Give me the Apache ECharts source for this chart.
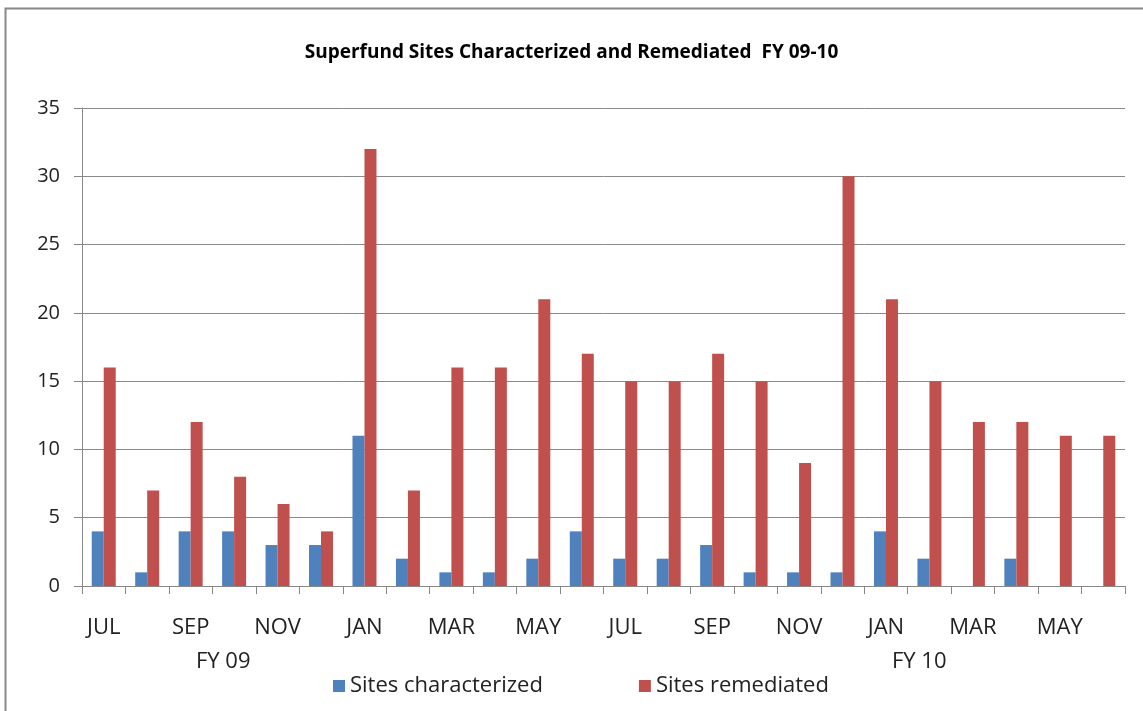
<!DOCTYPE html>
<html><head><meta charset="utf-8">
<script src="https://cdn.jsdelivr.net/npm/echarts@6/dist/echarts.min.js"></script>
<style>html,body{margin:0;padding:0;background:#fff}#c{width:1143px;height:711px}</style>
</head><body><div id="c"></div>
<script>
const months = ['JUL','AUG','SEP','OCT','NOV','DEC','JAN','FEB','MAR','APR','MAY','JUN',
                'JUL','AUG','SEP','OCT','NOV','DEC','JAN','FEB','MAR','APR','MAY','JUN'];
const characterized = [4,1,4,4,3,3,11,2,1,1,2,4,2,2,3,1,1,1,4,2,0,2,0,0];
const remediated = [16,7,12,8,6,4,32,7,16,16,21,17,15,15,17,15,9,30,21,15,12,12,11,11];
const fiscalYears = ['FY 09','FY 10'];
const yTicks = [0,5,10,15,20,25,30,35];

const font = '"Open Sans", "Liberation Sans", sans-serif';
const chart = echarts.init(document.getElementById('c'));
chart.setOption({
  animation:false,
  backgroundColor:'#fff',
  title:{text:'Superfund Sites Characterized and Remediated  FY 09-10', left:'center', top:38,
    textStyle:{fontFamily:font, fontSize:19, fontWeight:'bold', color:'#000'}},
  grid:{left:82, right:18, top:108, bottom:125, containLabel:false},
  legend:{bottom:9, left:328, itemGap:96, itemWidth:12, itemHeight:12, icon:'rect',
    textStyle:{fontFamily:font, fontSize:22, color:'#222'},
    data:['Sites characterized','Sites remediated']},
  xAxis:{type:'category', data:months,
    axisLine:{lineStyle:{color:'#888', width:1}},
    axisTick:{show:true, interval:0, length:8, lineStyle:{color:'#888'}},
    axisLabel:{interval:1, margin:31, fontFamily:font, fontSize:22, color:'#222'}},
  yAxis:{type:'value', min:yTicks[0], max:yTicks[yTicks.length-1], interval:5,
    axisLine:{show:true, lineStyle:{color:'#888'}},
    axisTick:{show:true, length:8, lineStyle:{color:'#888'}},
    splitLine:{lineStyle:{color:'#8a8a8a', width:1}},
    axisLabel:{margin:22, fontFamily:font, fontSize:20, color:'#222'}},
  series:[
    {name:'Sites characterized', type:'bar', data:characterized, barWidth:12, barGap:'0%',
      itemStyle:{color:'#4F81BD'}},
    {name:'Sites remediated', type:'bar', data:remediated, barWidth:12, barGap:'0%',
      itemStyle:{color:'#C0504D'}}
  ],
  graphic:[
    {type:'rect', shape:{x:5.5, y:8.5, width:1150, height:710}, style:{fill:'none', stroke:'#888', lineWidth:2}},
    {type:'text', left:196, top:651, style:{text:fiscalYears[0], fontFamily:font, fontSize:22, fill:'#222'}},
    {type:'text', left:892, top:651, style:{text:fiscalYears[1], fontFamily:font, fontSize:22, fill:'#222'}}
  ]
});
</script></body></html>
